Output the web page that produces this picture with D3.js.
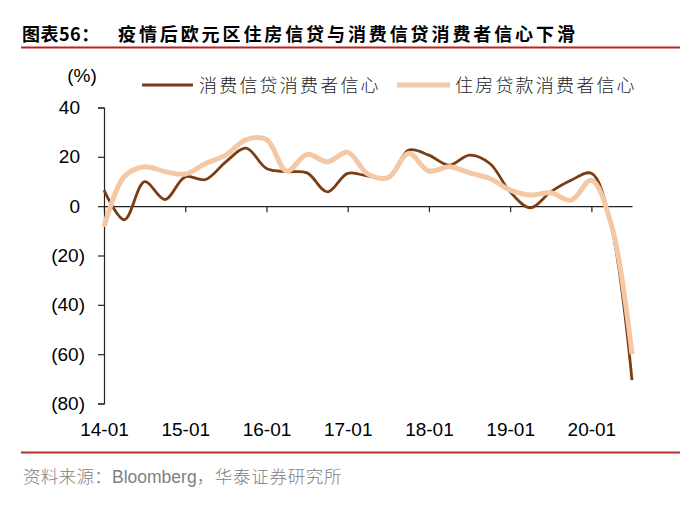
<!DOCTYPE html>
<html>
<head>
<meta charset="utf-8">
<script src="https://cdn.jsdelivr.net/npm/d3@7"></script>
<style>
  html, body { margin: 0; padding: 0; background: #fff; }
  svg { display: block; }
</style>
</head>
<body>
<svg id="chart" width="700" height="515"></svg>
<script>
// ---- data ----
const quarters = ["14-01","14-04","14-07","14-10","15-01","15-04","15-07","15-10",
  "16-01","16-04","16-07","16-10","17-01","17-04","17-07","17-10",
  "18-01","18-04","18-07","18-10","19-01","19-04","19-07","19-10",
  "20-01","20-04","20-07"];
const yearTicks = ["14-01","15-01","16-01","17-01","18-01","19-01","20-01"];
const yTicks = [40, 20, 0, -20, -40, -60, -80];
const seriesNames = ["消费信贷消费者信心", "住房贷款消费者信心"];
const consumerCredit = [6.5, -5.5, 9.9, 2.7, 11.9, 10.8, 18, 23.5, 15.3, 14, 13.5, 5.8, 13.3, 12.2, 11.5, 22.7, 20.7, 16.6, 20.7, 17.3, 5.8, -0.7, 5.8, 10.5, 13.3, -9, -70.5];
const housingLoan   = [-8.4, 12, 16, 14, 13, 17.3, 20.7, 27, 27, 14.2, 21, 18, 21.8, 13, 11.6, 21.4, 14.2, 16, 13.5, 11.2, 6.5, 4.5, 5.4, 2.4, 10.5, -8, -60];
const colors = ["#7a3d15", "#f5c8a5"];
const widths = [2.8, 5];

const svg = d3.select("#chart");
const FONT = "'Liberation Sans', Arial, sans-serif";
const CJK = "'Noto Sans CJK SC', sans-serif";

// title
const title = svg.append("text").attr("y", 41)
  .attr("font-family", CJK).attr("font-weight", 700).attr("font-size", 18).attr("fill", "#000");
title.append("tspan").attr("x", 22).attr("letter-spacing", 0.5).text("图表56：");
title.append("tspan").attr("x", 118).attr("letter-spacing", 2.9).text("疫情后欧元区住房信贷与消费信贷消费者信心下滑");
svg.append("line").attr("x1", 21).attr("x2", 680).attr("y1", 47.5).attr("y2", 47.5)
  .attr("stroke", "#c0201a").attr("stroke-width", 2);

// scales
const x = d3.scalePoint().domain(quarters).range([104, 632]);
const y = d3.scaleLinear().domain([-80, 40]).range([403.5, 107.5]);

// y axis
const yAxis = svg.append("g").attr("transform", "translate(104,0)")
  .call(d3.axisLeft(y).tickValues(yTicks).tickSize(6).tickPadding(18)
    .tickFormat(v => v < 0 ? `(${-v})` : `${v}`));
yAxis.select(".domain").attr("stroke", "#222").attr("stroke-width", 1.2);
yAxis.selectAll(".tick line").attr("stroke", "#222").attr("stroke-width", 1.2);
yAxis.selectAll(".tick text").attr("font-family", FONT).attr("font-size", 19).attr("fill", "#000")
  .attr("dx", v => v < 0 ? 5 : 0);

// x axis line at zero
const xAxis = svg.append("g").attr("transform", `translate(0,${y(0)})`)
  .call(d3.axisBottom(x).tickValues(yearTicks).tickSize(6).tickSizeOuter(0).tickFormat(""));
xAxis.select(".domain").attr("stroke", "#222").attr("stroke-width", 1.2);
xAxis.selectAll(".tick line").attr("stroke", "#222").attr("stroke-width", 1.2);

// x labels at bottom
const xLab = svg.append("g").attr("transform", "translate(0,403.5)")
  .call(d3.axisBottom(x).tickValues(yearTicks).tickSize(0).tickPadding(0));
xLab.select(".domain").remove();
xLab.selectAll(".tick text").attr("font-family", FONT).attr("font-size", 19).attr("fill", "#000")
  .attr("dy", null).attr("y", 32.5);

// (%)
svg.append("text").attr("x", 82).attr("y", 82).attr("text-anchor", "middle")
  .attr("font-family", FONT).attr("font-size", 19).attr("fill", "#000").text("(%)");

// lines
const line = d3.line().x((d, i) => x(quarters[i])).y(d => y(d)).curve(d3.curveCatmullRom.alpha(0.5));
[consumerCredit, housingLoan].forEach((s, k) => {
  svg.append("path").datum(s).attr("d", line).attr("fill", "none")
    .attr("stroke", colors[k]).attr("stroke-width", widths[k])
    .attr("stroke-linejoin", "round").attr("stroke-linecap", "butt");
});

// legend
const leg = [{x1: 142, x2: 193, tx: 199}, {x1: 397, x2: 450, tx: 455}];
leg.forEach((l, k) => {
  svg.append("line").attr("x1", l.x1).attr("x2", l.x2).attr("y1", 85).attr("y2", 85)
    .attr("stroke", colors[k]).attr("stroke-width", widths[k] + (k === 0 ? 0.4 : 0));
  svg.append("text").attr("x", l.tx).attr("y", 91.5)
    .attr("font-family", CJK).attr("font-weight", 300).attr("font-size", 18)
    .attr("letter-spacing", 2.2).attr("fill", "#222")
    .text(seriesNames[k]);
});

// bottom rule and source
svg.append("line").attr("x1", 21).attr("x2", 680).attr("y1", 452.5).attr("y2", 452.5)
  .attr("stroke", "#b0302a").attr("stroke-width", 2);
const src = svg.append("text").attr("x", 23).attr("y", 483)
  .attr("font-size", 17.5).attr("fill", "#808080");
src.append("tspan").attr("font-family", CJK).attr("font-weight", 300).attr("letter-spacing", 0.3).text("资料来源：");
src.append("tspan").attr("font-family", FONT).text("Bloomberg");
src.append("tspan").attr("font-family", CJK).attr("font-weight", 300).attr("letter-spacing", 0.7).text("，华泰证券研究所");
</script>
</body>
</html>
